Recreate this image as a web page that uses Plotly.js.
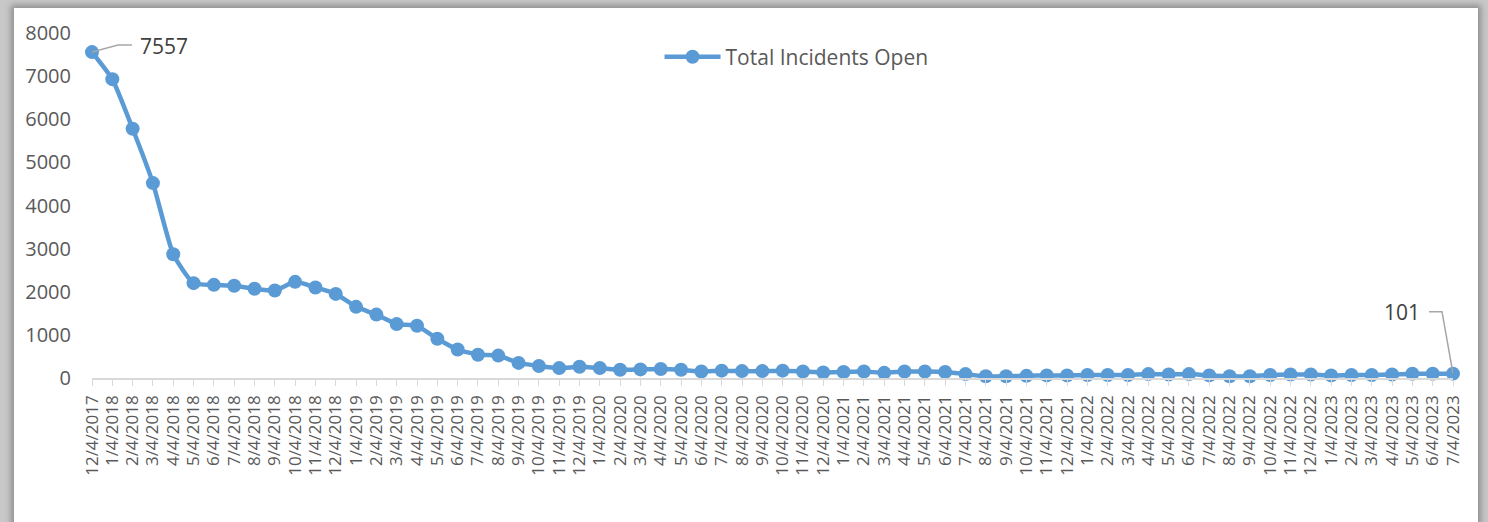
<!DOCTYPE html>
<html>
<head>
<meta charset="utf-8">
<script src="https://cdn.plot.ly/plotly-3.0.1.min.js"></script>
<style>
  html, body { margin: 0; padding: 0; width: 1488px; height: 522px; overflow: hidden; background: #c8c8c8; }
  #frame { position: absolute; left: 14px; top: 8px; width: 1464px; height: 530px; background: #ffffff;
           box-shadow: 0 0 6px 3px #8f8f8f; }
  #chart { position: absolute; left: 0; top: 0; width: 1488px; height: 522px; }
</style>
</head>
<body>
<div id="frame"></div>
<div id="chart"></div>
<script>
const dates = [
  "12/4/2017",
  "1/4/2018","2/4/2018","3/4/2018","4/4/2018","5/4/2018","6/4/2018","7/4/2018","8/4/2018","9/4/2018","10/4/2018","11/4/2018","12/4/2018",
  "1/4/2019","2/4/2019","3/4/2019","4/4/2019","5/4/2019","6/4/2019","7/4/2019","8/4/2019","9/4/2019","10/4/2019","11/4/2019","12/4/2019",
  "1/4/2020","2/4/2020","3/4/2020","4/4/2020","5/4/2020","6/4/2020","7/4/2020","8/4/2020","9/4/2020","10/4/2020","11/4/2020","12/4/2020",
  "1/4/2021","2/4/2021","3/4/2021","4/4/2021","5/4/2021","6/4/2021","7/4/2021","8/4/2021","9/4/2021","10/4/2021","11/4/2021","12/4/2021",
  "1/4/2022","2/4/2022","3/4/2022","4/4/2022","5/4/2022","6/4/2022","7/4/2022","8/4/2022","9/4/2022","10/4/2022","11/4/2022","12/4/2022",
  "1/4/2023","2/4/2023","3/4/2023","4/4/2023","5/4/2023","6/4/2023","7/4/2023"
];
const totalIncidentsOpen = [
  7557,
  6930,5780,4520,2870,2200,2160,2140,2070,2030,2230,2100,1950,
  1650,1470,1250,1210,910,660,540,520,350,280,230,260,
  230,190,200,210,190,150,170,160,160,170,150,130,
  140,150,120,150,150,140,90,40,40,50,60,60,
  70,70,70,90,80,90,60,40,40,70,80,80,
  60,70,70,80,100,100,101
];
const seriesName = "Total Incidents Open";

const color = "#5b9bd5";
const trace = {
  type: "scatter",
  mode: "lines+markers",
  x: dates,
  y: totalIncidentsOpen,
  name: seriesName,
  line: { color: color, width: 4.5, shape: "spline", smoothing: 0.5 },
  marker: { color: color, size: 14 },
  cliponaxis: false
};

const firstIdx = 0, lastIdx = totalIncidentsOpen.length - 1;
const leaderColor = "#a6a6a6";
const layout = {
  width: 1488, height: 522,
  paper_bgcolor: "rgba(0,0,0,0)",
  plot_bgcolor: "rgba(0,0,0,0)",
  margin: { l: 92, r: 35, t: 33, b: 144, pad: 0 },
  font: { family: "Open Sans, sans-serif", color: "#595959" },
  showlegend: true,
  legend: {
    x: 0.417, y: 0.93, xanchor: "left", yanchor: "middle",
    font: { size: 21, color: "#595959" },
    bgcolor: "rgba(0,0,0,0)", itemwidth: 56
  },
  xaxis: {
    type: "category",
    range: [0, dates.length - 1],
    showgrid: false, zeroline: false,
    showline: true, linecolor: "#d9d9d9", linewidth: 1.5,
    ticks: "outside", ticklen: 6, tickcolor: "#d9d9d9", tickwidth: 1,
    tickangle: -90,
    tickfont: { size: 17, color: "#595959" },
    ticklabelstandoff: 3,
    fixedrange: true
  },
  yaxis: {
    range: [0, 8000],
    dtick: 1000,
    showgrid: false, zeroline: false, showline: false,
    ticks: "",
    tickfont: { size: 20, color: "#595959" },
    ticklabelstandoff: 20,
    fixedrange: true
  },
  shapes: [
    {
      type: "path", xref: "x", yref: "y",
      xsizemode: "pixel", ysizemode: "pixel",
      xanchor: dates[firstIdx], yanchor: totalIncidentsOpen[firstIdx],
      path: "M 0 0 L 26 7 L 40 7",
      line: { color: leaderColor, width: 1.5 }
    },
    {
      type: "path", xref: "x", yref: "y",
      xsizemode: "pixel", ysizemode: "pixel",
      xanchor: dates[lastIdx], yanchor: totalIncidentsOpen[lastIdx],
      path: "M 0 0 L -11 62 L -24 62",
      line: { color: leaderColor, width: 1.5 }
    }
  ],
  annotations: [
    {
      x: dates[firstIdx], y: totalIncidentsOpen[firstIdx],
      text: String(totalIncidentsOpen[firstIdx]),
      showarrow: true, arrowcolor: "rgba(0,0,0,0)",
      ax: 72, ay: -6,
      font: { size: 21, color: "#404040" }
    },
    {
      x: dates[lastIdx], y: totalIncidentsOpen[lastIdx],
      text: String(totalIncidentsOpen[lastIdx]),
      showarrow: true, arrowcolor: "rgba(0,0,0,0)",
      ax: -51, ay: -62,
      font: { size: 21, color: "#404040" }
    }
  ]
};

Plotly.newPlot("chart", [trace], layout, { displayModeBar: false, staticPlot: true });
</script>
</body>
</html>
